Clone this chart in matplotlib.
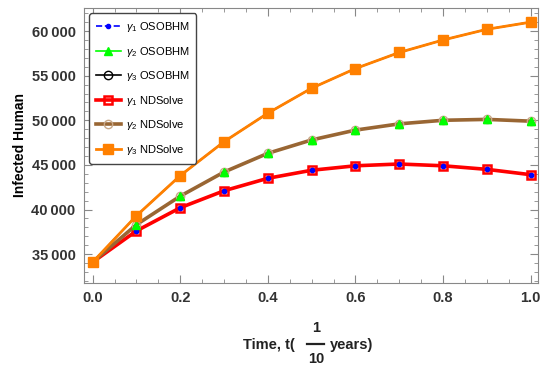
import matplotlib.pyplot as plt
import numpy as np
from matplotlib.lines import Line2D
from matplotlib.ticker import MultipleLocator, FuncFormatter

plt.rcParams['font.family'] = ['Liberation Sans', 'DejaVu Sans']
plt.rcParams['mathtext.fontset'] = 'custom'
plt.rcParams['mathtext.rm'] = 'Liberation Sans'
plt.rcParams['mathtext.it'] = 'Liberation Sans:italic'
plt.rcParams['mathtext.bf'] = 'Liberation Sans:bold'

# time points
t = [0.0, 0.1, 0.2, 0.3, 0.4, 0.5, 0.6, 0.7, 0.8, 0.9, 1.0]

# infected human values for each gamma (OSOBHM and NDSolve agree)
gamma1 = [34100, 37600, 40200, 42100, 43500, 44400, 44900, 45100, 44900, 44500, 43900]
gamma2 = [34100, 38300, 41500, 44200, 46300, 47800, 48900, 49600, 50000, 50100, 49900]
gamma3 = [34100, 39300, 43800, 47600, 50800, 53600, 55800, 57600, 59000, 60200, 61000]

fig = plt.figure(figsize=(5.41, 3.74), dpi=100)
ax = fig.add_axes([0.155, 0.243, 0.839, 0.736])

# OSOBHM series
ax.plot(t, gamma1, color='#0000ff', ls='--', lw=1.2, marker='o', ms=3,
        label=r'$\gamma_1$ OSOBHM', zorder=2)
ax.plot(t, gamma2, color='#00ff00', lw=1.2, marker='^', ms=6,
        label=r'$\gamma_2$ OSOBHM', zorder=2)
ax.plot(t, gamma3, color='black', lw=1.2, marker='o', ms=6, mfc='none',
        label=r'$\gamma_3$ OSOBHM', zorder=2)

# NDSolve series
ax.plot(t, gamma1, color='#ff0000', lw=2.6, marker='s', ms=6, mfc='none', mew=1.8,
        label=r'$\gamma_1$ NDSolve', zorder=3)
ax.plot(t, gamma2, color='#996633', lw=2.6, marker='o', ms=6, mfc='none', mec='#c8a888',
        label=r'$\gamma_2$ NDSolve', zorder=3)
ax.plot(t, gamma3, color='#ff8000', lw=2, marker='s', ms=7,
        label=r'$\gamma_3$ NDSolve', zorder=6)

# OSOBHM markers shown on top of the NDSolve lines
ax.plot(t, gamma1, ls='none', marker='o', ms=3, color='#0000ff', zorder=4)
ax.plot(t, gamma2, ls='none', marker='^', ms=6, color='#00ff00', zorder=4)

ax.set_xlim(-0.02, 1.016)
ax.set_ylim(31750, 62600)

ax.xaxis.set_major_locator(MultipleLocator(0.2))
ax.xaxis.set_minor_locator(MultipleLocator(0.05))
ax.yaxis.set_major_locator(MultipleLocator(5000))
ax.yaxis.set_minor_locator(MultipleLocator(1000))
ax.xaxis.set_major_formatter(FuncFormatter(lambda v, p: f'{v:.1f}'))
ax.yaxis.set_major_formatter(FuncFormatter(lambda v, p: f'{int(v):,}'.replace(',', '\u2009')))

ax.tick_params(which='both', direction='in', top=True, right=True, color='#888888')
ax.tick_params(which='major', length=6, width=0.8, labelsize=10.5, labelcolor='#333333', pad=6)
ax.tick_params(which='minor', length=3, width=0.6)
for lab in ax.get_xticklabels() + ax.get_yticklabels():
    lab.set_fontweight('bold')
for s in ax.spines.values():
    s.set_color('#888888')

ax.set_ylabel('Infected Human', fontsize=10, fontweight='bold', labelpad=3)

# x label with a stacked fraction
W, H = 541, 374
fkw = dict(fontsize=10.5, fontweight='bold', color='#222222', va='center')
fig.text(295 / W, 1 - 345 / H, 'Time, t(', ha='right', **fkw)
fig.text(316 / W, 1 - 328 / H, '1', ha='center', **fkw)
fig.add_artist(Line2D([307 / W, 324 / W], [1 - 344 / H, 1 - 344 / H],
                      color='#222222', lw=1.6, transform=fig.transFigure))
fig.text(316 / W, 1 - 359 / H, '10', ha='center', **fkw)
fig.text(330 / W, 1 - 345 / H, 'years)', ha='left', **fkw)

leg = ax.legend(loc='upper left', bbox_to_anchor=(0.0, 1.0), fontsize=8,
                labelspacing=0.95, handlelength=2.2, handletextpad=0.5, borderpad=0.6,
                fancybox=True, edgecolor='#444444', framealpha=1)
leg.get_frame().set_linewidth(1.0)
leg.set_zorder(10)

plt.savefig('out.png', dpi=100)
